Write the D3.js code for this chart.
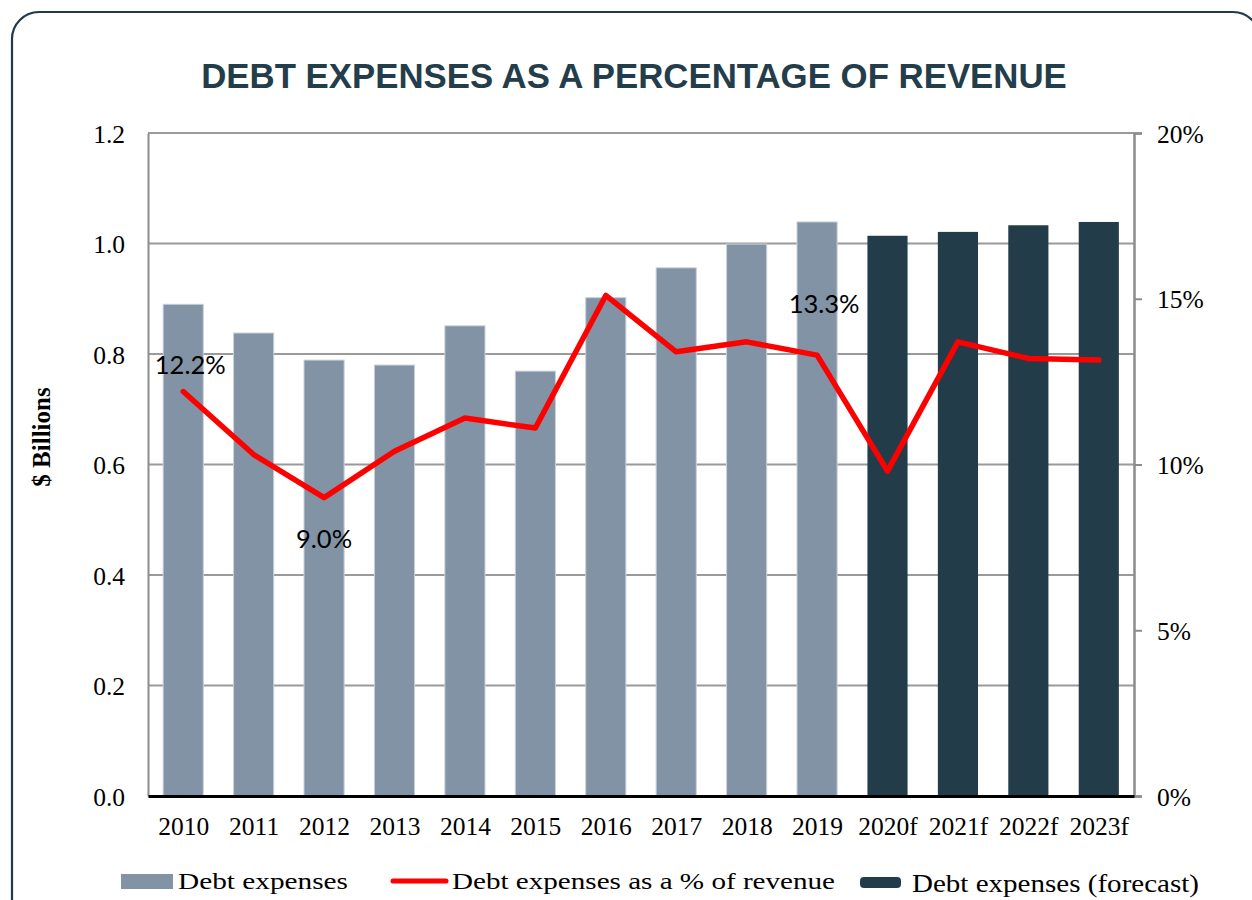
<!DOCTYPE html>
<html>
<head>
<meta charset="utf-8">
<script src="https://cdn.jsdelivr.net/npm/d3@7"></script>
<style>
  html, body { margin: 0; padding: 0; background: #fff; }
  svg { display: block; }
</style>
</head>
<body>
<svg id="chart" width="1252" height="900"></svg>
<script>
// Fiscal years, actual and forecast
const years = ["2010","2011","2012","2013","2014","2015","2016","2017","2018","2019","2020f","2021f","2022f","2023f"];
// Debt expenses ($ billions), actual years
const debtActual = [0.890, 0.838, 0.789, 0.780, 0.851, 0.769, 0.902, 0.956, 0.999, 1.039, null, null, null, null];
// Debt expenses ($ billions), forecast years
const debtForecast = [null, null, null, null, null, null, null, null, null, null, 1.014, 1.021, 1.033, 1.039];
// Debt expenses as a share of revenue (%)
const pctRevenue = [12.2, 10.3, 9.0, 10.4, 11.4, 11.1, 15.1, 13.4, 13.7, 13.3, 9.8, 13.7, 13.2, 13.15];
// Labelled points on the revenue-share line (dy: offset of the label baseline from the point)
const labelled = [
  { year: "2010", text: "12.2%", dx: 7, dy: -18 },
  { year: "2012", text: "9.0%",  dx: 0, dy: 50 },
  { year: "2019", text: "13.3%", dx: 7, dy: -42 }
];
const leftTicks = [0, 0.2, 0.4, 0.6, 0.8, 1.0, 1.2];
const rightTicks = [0, 5, 10, 15, 20];

const svg = d3.select("#chart");
const plot = { left: 148, right: 1134, top: 133, bottom: 796 };

const colActual = "#8293a5";
const colForecast = "#233c4a";
const colLine = "#ff0000";
const colDark = "#233d4b";

// frame around the whole figure
svg.append("rect")
  .attr("x", 12).attr("y", 12)
  .attr("width", 1248).attr("height", 940)
  .attr("rx", 27).attr("ry", 27)
  .attr("fill", "none").attr("stroke", "#1f3a49").attr("stroke-width", 2.2);

svg.append("text")
  .attr("x", 634).attr("y", 88)
  .attr("text-anchor", "middle")
  .attr("font-family", "'Liberation Sans', Arial, sans-serif")
  .attr("font-weight", "bold")
  .attr("font-size", 34.8)
  .attr("fill", colDark)
  .text("DEBT EXPENSES AS A PERCENTAGE OF REVENUE");

const x = d3.scaleBand().domain(years).range([plot.left, plot.right]).paddingInner(0.43).paddingOuter(0.215);
const xc = d3.scalePoint().domain(years).range([plot.left, plot.right]).padding(0.5);
const y = d3.scaleLinear().domain([0, 1.2]).range([plot.bottom, plot.top]);
const y2 = d3.scaleLinear().domain([0, 20]).range([plot.bottom, plot.top]);

// horizontal gridlines
svg.append("g").selectAll("line").data(leftTicks.filter(d => d > 0)).join("line")
  .attr("x1", plot.left).attr("x2", plot.right)
  .attr("y1", d => y(d)).attr("y2", d => y(d))
  .attr("stroke", "#9a9a9a").attr("stroke-width", 2);

// left axis
const gLeft = svg.append("g").attr("transform", `translate(${plot.left},0)`)
  .call(d3.axisLeft(y).tickValues(leftTicks).tickFormat(d3.format(".1f")).tickSize(0).tickPadding(23));
gLeft.select(".domain").attr("stroke", "#8c8c8c").attr("stroke-width", 2);
gLeft.selectAll("text")
  .attr("font-family", "'Liberation Serif', 'Times New Roman', serif")
  .attr("font-size", 25.5).attr("fill", "#000").attr("dy", "0.36em");

// right axis
const gRight = svg.append("g").attr("transform", `translate(${plot.right},0)`)
  .call(d3.axisRight(y2).tickValues(rightTicks).tickFormat(d => d + "%").tickSize(8).tickPadding(15));
gRight.select(".domain").attr("stroke", "#8c8c8c").attr("stroke-width", 2.5);
gRight.selectAll(".tick line").attr("stroke", "#8c8c8c").attr("stroke-width", 2);
gRight.selectAll("text")
  .attr("font-family", "'Liberation Serif', 'Times New Roman', serif")
  .attr("font-size", 25.5).attr("fill", "#000").attr("dy", "0.36em");

// bars: actual
svg.append("g").selectAll("rect").data(years.map((yr, i) => ({ yr, v: debtActual[i] })).filter(d => d.v != null))
  .join("rect")
  .attr("x", d => x(d.yr)).attr("width", x.bandwidth())
  .attr("y", d => y(d.v)).attr("height", d => y(0) - y(d.v))
  .attr("fill", colActual).attr("stroke", "#c9d1da").attr("stroke-width", 1);

// bars: forecast
svg.append("g").selectAll("rect").data(years.map((yr, i) => ({ yr, v: debtForecast[i] })).filter(d => d.v != null))
  .join("rect")
  .attr("x", d => x(d.yr)).attr("width", x.bandwidth())
  .attr("y", d => y(d.v)).attr("height", d => y(0) - y(d.v))
  .attr("fill", colForecast);

// bottom axis
const gBottom = svg.append("g").attr("transform", `translate(0,${plot.bottom})`)
  .call(d3.axisBottom(xc).tickSize(0).tickPadding(21));
gBottom.select(".domain").attr("stroke", "#000").attr("stroke-width", 3);
gBottom.selectAll("text")
  .attr("font-family", "'Liberation Serif', 'Times New Roman', serif")
  .attr("font-size", 25.5).attr("fill", "#000");

// revenue share line
const line = d3.line().x((d, i) => xc(years[i])).y(d => y2(d));
svg.append("path").datum(pctRevenue)
  .attr("d", line)
  .attr("fill", "none").attr("stroke", colLine).attr("stroke-width", 5.5)
  .attr("stroke-linejoin", "round").attr("stroke-linecap", "round");

// point labels
svg.append("g").selectAll("text").data(labelled).join("text")
  .attr("x", d => xc(d.year) + d.dx)
  .attr("y", d => y2(pctRevenue[years.indexOf(d.year)]) + d.dy)
  .attr("text-anchor", "middle")
  .attr("font-family", "Lato, 'Open Sans', sans-serif")
  .attr("font-size", 25.5)
  .attr("fill", "#000")
  .text(d => d.text);

// y-axis title
svg.append("text")
  .attr("transform", "translate(50,437) rotate(-90)")
  .attr("text-anchor", "middle")
  .attr("font-family", "'Liberation Serif', 'Times New Roman', serif")
  .attr("font-weight", "bold")
  .attr("font-size", 25)
  .text("$ Billions");

// legend
const legend = svg.append("g")
  .attr("font-family", "'Liberation Serif', 'Times New Roman', serif")
  .attr("fill", "#000");
legend.append("rect").attr("x", 121).attr("y", 874).attr("width", 52).attr("height", 15).attr("fill", colActual);
legend.append("text").attr("x", 178).attr("y", 889).attr("font-size", 23)
  .attr("textLength", 170).attr("lengthAdjust", "spacingAndGlyphs").text("Debt expenses");
legend.append("line").attr("x1", 393).attr("x2", 446).attr("y1", 881).attr("y2", 881)
  .attr("stroke", colLine).attr("stroke-width", 5).attr("stroke-linecap", "round");
legend.append("text").attr("x", 452).attr("y", 889).attr("font-size", 23)
  .attr("textLength", 383).attr("lengthAdjust", "spacingAndGlyphs").text("Debt expenses as a % of revenue");
legend.append("rect").attr("x", 860).attr("y", 877).attr("width", 41).attr("height", 11).attr("rx", 4)
  .attr("fill", colForecast);
legend.append("text").attr("x", 912).attr("y", 892).attr("font-size", 25)
  .attr("textLength", 287).attr("lengthAdjust", "spacingAndGlyphs").text("Debt expenses (forecast)");
</script>
</body>
</html>
